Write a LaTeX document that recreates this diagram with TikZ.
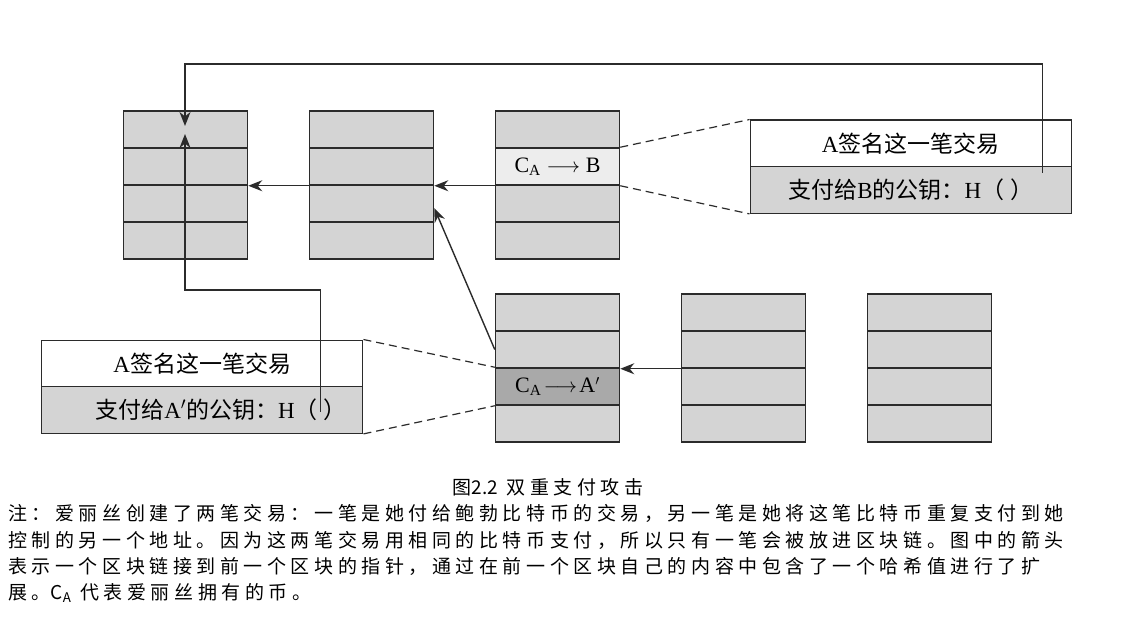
\documentclass[tikz,border=0pt]{standalone}
\usepackage{fontspec}
\setmainfont{Liberation Serif}
\newfontfamily\cjk{Noto Sans CJK SC}
\newfontfamily\notefont{Noto Sans CJK SC}[LetterSpace=24]
\usetikzlibrary{arrows.meta}
\definecolor{rowgray}{HTML}{D4D4D4}
\definecolor{rowlight}{HTML}{EDEDED}
\definecolor{rowdark}{HTML}{A9A9A9}
\definecolor{ink}{HTML}{2B2B2B}

\begin{document}
\begin{tikzpicture}[x=1pt,y=-1pt,
  row/.style={draw=ink,line width=1.5pt,fill=rowgray,minimum width=124pt,minimum height=37pt,inner sep=0pt},
  rowtxt/.style={row,font=\fontsize{22}{26}\selectfont},
  txbox/.style={draw=ink,line width=1.3pt,minimum width=321pt,minimum height=46.5pt,inner sep=0pt,font=\fontsize{23}{27}\selectfont},
  boxtxt/.style={inner sep=0pt,font=\fontsize{23}{27}\selectfont},
  notetxt/.style={anchor=west,inner sep=0pt,font=\fontsize{19}{22}\notefont},
  link/.style={draw=ink,line width=1.4pt,-{Stealth[length=14pt,width=11pt,inset=4.5pt]}},
  dashlink/.style={draw=ink,line width=1.2pt,dash pattern=on 8pt off 5pt}]
\useasboundingbox (0,0) rectangle (1147,620);

% the six blocks, four rows each
\foreach \blk/\bx/\by in {ba/185.5/111,bb/371.5/111,bc/557.5/111,bd/557.5/294,be/743.5/294,bf/929.5/294}
  \foreach \r in {1,...,4}
    \node[row] (\blk\r) at (\bx,\by+37*\r-18.5) {};
\node[rowtxt,fill=rowlight] (cab) at (bc2) {$\mathrm{C_A}\longrightarrow\mathrm{B}$};
\node[rowtxt,fill=rowdark] (caa) at (bd3) {$\mathrm{C_A}\!\longrightarrow\!\mathrm{A}'$};

% the two transactions
\node[txbox,fill=white] (bsig) at (910.7,143.4) {A{\cjk 签名这一笔交易}};
\node[txbox,fill=rowgray] (bpay) at (910.7,190) {{\cjk 支付给}B{\cjk 的公钥：}H{\cjk （\hspace{0.25em}）}};
\node[txbox,fill=white] (asig) at (202.3,363.4) {A{\cjk 签名这一笔交易}};
\node[txbox,fill=rowgray] (apay) at (202.3,410) {};
\node[boxtxt,anchor=east] (apayl) at (318,410) {{\cjk 支付给}A$'${\cjk 的公钥：}H{\cjk （}};
\node[boxtxt,anchor=west] (apayr) at (323,410) {{\cjk ）}};

% chain pointers
\draw[link] (bc2.south west) -- (bb2.south east);
\draw[link] (bb2.south west) -- (ba2.south east);
\draw[link] (be2.south west) -- (bd2.south east);
\draw[link] (bd2.west) -- ([yshift=-4.5pt]bb3.east);

% hash pointers out of the transactions
\coordinate (hb) at (1042.5,173);
\coordinate (hbtip) at (185,126);
\draw[link] (hb) -- ++(0,-109) -| (hbtip);
\coordinate (ha) at (320.5,411.5);
\coordinate (hatip) at (185,134);
\draw[link] (ha) -- ++(0,-121.5) -| (hatip);

\draw[dashlink] (bc2.north east) -- (bsig.north west);
\draw[dashlink] (bc2.south east) -- (bpay.south west);
\draw[dashlink] (asig.north east) -- (bd3.north west);
\draw[dashlink] (apay.south east) -- (bd3.south west);

% caption
\node[font=\fontsize{19}{22}\notefont] (cap) at (548,487) {图{\cjk 2.2} 双重支付攻击};
\node[notetxt] (n1) at (8,513) {注：爱丽丝创建了两笔交易：一笔是她付给鲍勃比特币的交易，另一笔是她将这笔比特币重复支付到她};
\node[notetxt] (n2) at (8,540) {控制的另一个地址。因为这两笔交易用相同的比特币支付，所以只有一笔会被放进区块链。图中的箭头};
\node[notetxt] (n3) at (8,566.5) {表示一个区块链接到前一个区块的指针，通过在前一个区块自己的内容中包含了一个哈希值进行了扩};
\node[notetxt] (n4) at (8,593) {展。{\cjk C\textsubscript{A}} 代表爱丽丝拥有的币。};
\end{tikzpicture}
\end{document}
